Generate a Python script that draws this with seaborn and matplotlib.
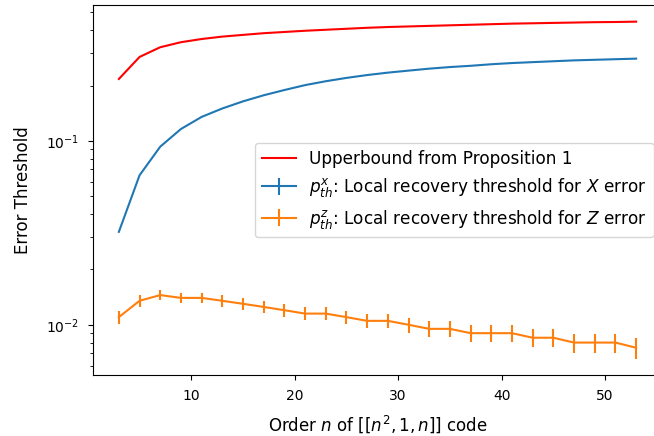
import matplotlib
matplotlib.use("Agg")
import matplotlib.pyplot as plt
import seaborn as sns
import pandas as pd

# === Data ===
n_order = [3, 5, 7, 9, 11, 13, 15, 17, 19, 21, 23, 25, 27,
           29, 31, 33, 35, 37, 39, 41, 43, 45, 47, 49, 51, 53]

upper_bound = [0.217, 0.286, 0.323, 0.344, 0.358, 0.369, 0.377, 0.385, 0.391,
               0.397, 0.402, 0.407, 0.412, 0.416, 0.419, 0.422, 0.425, 0.428,
               0.431, 0.434, 0.436, 0.438, 0.440, 0.442, 0.443, 0.445]

px_threshold = [0.032, 0.065, 0.093, 0.116, 0.135, 0.150, 0.164, 0.177, 0.189,
                0.201, 0.211, 0.220, 0.228, 0.235, 0.241, 0.247, 0.252, 0.256,
                0.261, 0.265, 0.268, 0.271, 0.274, 0.276, 0.278, 0.280]
px_err = [0.0, 0.0, 0.0, 0.0, 0.0, 0.0, 0.0, 0.0, 0.0, 0.0, 0.0, 0.0, 0.0,
          0.0, 0.0, 0.0, 0.0, 0.0, 0.0, 0.0, 0.0, 0.0, 0.0, 0.0, 0.0, 0.0]

pz_threshold = [0.0110, 0.0135, 0.0145, 0.0140, 0.0140, 0.0135, 0.0130, 0.0125,
                0.0120, 0.0115, 0.0115, 0.0110, 0.0105, 0.0105, 0.0100, 0.0095,
                0.0095, 0.0090, 0.0090, 0.0090, 0.0085, 0.0085, 0.0080, 0.0080,
                0.0080, 0.0075]
pz_err = [0.00095, 0.00095, 0.00095, 0.00095, 0.00095, 0.00095, 0.00095,
          0.00095, 0.00095, 0.00095, 0.00095, 0.00095, 0.00095, 0.00095,
          0.00095, 0.00095, 0.00095, 0.00095, 0.00095, 0.00095, 0.00095,
          0.00095, 0.00095, 0.00095, 0.00095, 0.00095]

df = pd.DataFrame({"n": n_order, "upper": upper_bound})

# === Plot ===
fig = plt.figure(figsize=(6.54, 4.36), dpi=100)
# axes runs a bit past the right edge, like the cropped original
ax = fig.add_axes([0.1422, 0.139, 0.870, 0.850])

sns.lineplot(data=df, x="n", y="upper", color="red", ax=ax,
             label="Upperbound from Proposition 1")
ax.errorbar(n_order, px_threshold, yerr=px_err, color="C0",
            label=r"$p^x_{th}$: Local recovery threshold for $X$ error")
ax.errorbar(n_order, pz_threshold, yerr=pz_err, color="C1",
            label=r"$p^z_{th}$: Local recovery threshold for $Z$ error")

ax.set_yscale("log")
ax.tick_params(axis="both", which="major", pad=6.5)
ax.set_xlabel(r"Order $n$ of $[[n^2,1,n]]$ code", fontsize=12, labelpad=7)
ax.set_ylabel("Error Threshold", fontsize=12, labelpad=10)
ax.legend(loc="center right", fontsize=12.2, handlelength=2.0)

fig.savefig("out.png", dpi=100)
